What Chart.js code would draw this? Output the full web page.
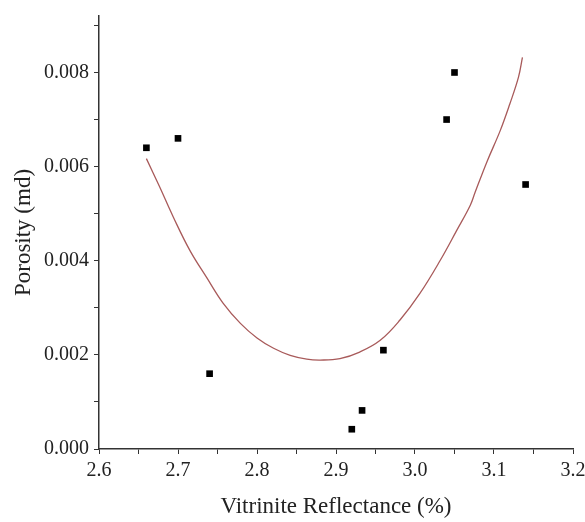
<!DOCTYPE html>
<html>
<head>
<meta charset="utf-8">
<script src="https://cdn.jsdelivr.net/npm/chart.js@4/dist/chart.umd.min.js"></script>
<style>
  html, body { margin: 0; padding: 0; background: #fff; }
  #wrap { width: 585px; height: 522px; }
</style>
</head>
<body>
<div id="wrap"><canvas id="chart" width="585" height="522"></canvas></div>
<script>
// ── Measured samples ──
const reflectance = [2.66, 2.70, 2.74, 2.92, 2.933, 2.96, 3.04, 3.05, 3.14];
const porosity = [0.0064, 0.0066, 0.0016, 0.00042, 0.00082, 0.0021, 0.0070, 0.0080, 0.00562];

// ── Fitted trend curve ──
const fitX = [2.660, 2.677, 2.694, 2.715, 2.736, 2.757, 2.779, 2.800, 2.821, 2.842, 2.863, 2.880,
  2.905, 2.930, 2.956, 2.981, 3.006, 3.032, 3.053, 3.070, 3.076, 3.091, 3.108, 3.120, 3.131, 3.136];
const fitY = [0.00617, 0.00556, 0.00493, 0.00422, 0.00365, 0.00310, 0.00267, 0.00236, 0.00214, 0.00199, 0.00191, 0.00189,
  0.00192, 0.00206, 0.00231, 0.00274, 0.00330, 0.00401, 0.00465, 0.00518, 0.00545, 0.00610, 0.00677, 0.00733, 0.00790, 0.00832];

const font = "'Liberation Serif', 'Times New Roman', serif";

const points = reflectance.map((x, i) => ({ x: x, y: porosity[i] }));
const fit = fitX.map((x, i) => ({ x: x, y: fitY[i] }));

new Chart(document.getElementById("chart"), {
  type: "scatter",
  data: {
    datasets: [
      {
        data: fit,
        showLine: true,
        borderColor: "#a85a5a",
        borderWidth: 1.3,
        tension: 0.4,
        pointRadius: 0,
        fill: false,
      },
      {
        data: points,
        pointStyle: "rect",
        pointRadius: 4.7,
        backgroundColor: "#000",
        borderColor: "#000",
        borderWidth: 0,
      },
    ],
  },
  options: {
    responsive: false,
    animation: false,
    layout: { padding: { top: 16, right: 12, left: 6, bottom: 0 } },
    plugins: {
      legend: { display: false },
      tooltip: { enabled: false },
    },
    scales: {
      x: {
        type: "linear",
        min: 2.6,
        max: 3.2,
        afterFit: (s) => {
          s.height = 73;
          s.paddingRight = 0;
        },
        border: { display: true, color: "#333", width: 1.5 },
        grid: { drawOnChartArea: false, drawTicks: true, tickLength: 5, color: "#333" },
        ticks: {
          stepSize: 0.05,
          color: "#222",
          padding: 5,
          maxRotation: 0,
          autoSkip: false,
          font: { family: font, size: 20 },
          callback: (v) => (Math.round(v * 100) % 10 === 0 ? v.toFixed(1) : ""),
        },
        title: {
          display: true,
          text: "Vitrinite Reflectance (%)",
          color: "#222",
          font: { family: font, size: 23 },
          padding: { top: 4, bottom: 1 },
        },
      },
      y: {
        type: "linear",
        min: 0,
        max: 0.0092,
        afterFit: (s) => {
          s.width = 93;
          s.paddingTop = 0;
        },
        border: { display: true, color: "#333", width: 1.5 },
        grid: { drawOnChartArea: false, drawTicks: true, tickLength: 5, color: "#333" },
        ticks: {
          stepSize: 0.001,
          includeBounds: false,
          color: "#222",
          padding: 5,
          autoSkip: false,
          font: { family: font, size: 20 },
          callback: (v) => (Math.round(v * 1000) % 2 === 0 ? v.toFixed(3) : ""),
        },
        title: {
          display: true,
          text: "Porosity (md)",
          color: "#222",
          font: { family: font, size: 23 },
          padding: { top: 4, bottom: 0 },
        },
      },
    },
  },
});
</script>
</body>
</html>
